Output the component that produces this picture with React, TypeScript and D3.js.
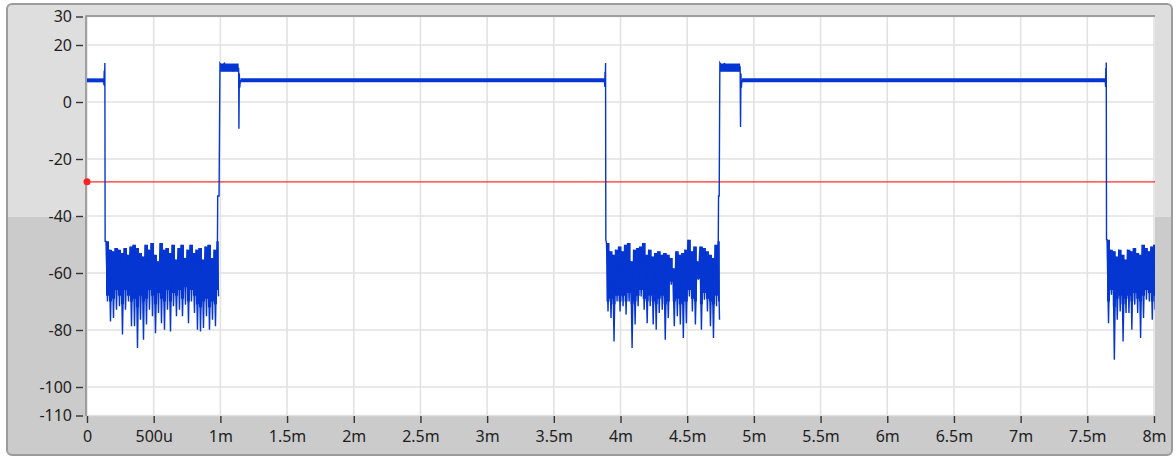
import * as d3 from "d3";
import { useEffect, useRef } from "react";

const W = 1176;
const H = 457;

// axis ticks
const yTicks = [30, 20, 0, -20, -40, -60, -80, -100, -110];
const xTicks = [0, 0.5, 1, 1.5, 2, 2.5, 3, 3.5, 4, 4.5, 5, 5.5, 6, 6.5, 7, 7.5, 8];
const xTickLabels = ["0", "500u", "1m", "1.5m", "2m", "2.5m", "3m", "3.5m", "4m", "4.5m", "5m", "5.5m", "6m", "6.5m", "7m", "7.5m", "8m"];

// red cursor level (dB)
const cursorLevel = -28;

// "on" plateau band (dB) and where it sits (ms)
const plateauBand = [6.9, 8.3];
const plateauSpans = [
	[0, 0.127],
	[1.15, 3.882],
	[4.91, 7.636],
];
// overshoot just after each rising edge
const bumpBand = [10.6, 13.5];
const bumpSpans = [
	[0.998, 1.137],
	[4.746, 4.897],
];

// edges between bursts (ms, dB)
const traceA = [
	[0, 7.5], [0.125, 7.5], [0.127, 6], [0.129, 11], [0.131, 5.5], [0.134, 13.7], [0.136, -48.9],
];
const traceB = [
	[0.978, -50], [0.98, -33], [0.99, -33], [0.997, 13.5], [1.01, 12.5], [1.03, 13.6], [1.05, 11.6],
	[1.07, 12.8], [1.09, 11], [1.11, 12.4], [1.13, 11.3], [1.137, 12], [1.139, -9.4], [1.142, 10],
	[1.145, 5], [1.15, 7.5], [3.88, 7.5], [3.882, 5.4], [3.884, 10.6], [3.886, 5.8], [3.888, 13.7],
	[3.89, -48.3],
];
const traceC = [
	[4.733, -50], [4.735, -33], [4.74, -33], [4.745, 13.7], [4.76, 12.6], [4.78, 13.5], [4.8, 11.8],
	[4.82, 12.9], [4.84, 11.2], [4.86, 12.3], [4.88, 11], [4.897, 12], [4.9, -8.8], [4.903, 10],
	[4.906, 5], [4.91, 7.5], [7.635, 7.5], [7.637, 5.3], [7.639, 12], [7.641, 5.8], [7.642, 13.9],
	[7.644, -48.3],
];

// off-state noise bursts: span (ms), per-column max, dense-floor and spike min (dB)
const burst1Span = [0.1424, 0.9745];
const burst1Hi = [
	-48.9, -51.8, -52.4, -51.2, -51.8, -53.0, -51.2, -53.6, -50.7, -50.1, -51.2, -53.0, -54.2, -50.1,
	-51.8, -49.5, -53.6, -55.9, -49.5, -51.8, -51.2, -53.0, -50.1, -55.3, -51.2, -50.1, -54.7, -51.8,
	-50.1, -53.0, -51.8, -51.2, -55.3, -50.7, -50.1, -54.7, -51.8, -48.9,
];
const burst1Core = [
	-68, -70, -69, -66, -68, -71, -66, -68, -70, -69, -72, -68, -70, -69, -66, -68, -71, -67, -69,
	-70, -66, -70, -67, -68, -66, -69, -65, -70, -66, -68, -71, -72, -70, -69, -72, -70, -71, -66,
];
const burst1Lo = [
	-70.0, -77.0, -75.8, -72.9, -71.7, -81.6, -72.9, -70.0, -78.7, -78.7, -86.3, -76.4, -83.4, -78.1,
	-72.9, -75.2, -81.1, -74.0, -77.6, -79.9, -72.9, -80.5, -71.7, -75.2, -72.9, -75.2, -71.1, -77.6,
	-70.0, -74.0, -79.9, -80.5, -79.3, -75.2, -79.9, -76.4, -78.7, -68.2,
];

const burst2Span = [3.895, 4.731];
const burst2Hi = [
	-49.5, -52.4, -53.6, -51.8, -50.7, -52.4, -50.1, -49.5, -55.9, -51.8, -51.2, -50.7, -49.5, -53.6,
	-51.8, -54.2, -53.0, -52.4, -53.6, -53.0, -53.6, -54.7, -58.3, -52.4, -53.6, -53.0, -51.8, -48.3,
	-52.4, -50.7, -55.9, -50.7, -51.2, -52.4, -53.6, -54.7, -50.1, -48.9,
];
const burst2Core = [
	-70, -69, -71, -68, -70, -68, -70, -67, -71, -70, -68, -66, -69, -70, -68, -70, -71, -69, -68,
	-71, -70, -63, -70, -69, -71, -70, -70, -66, -69, -70, -62, -71, -67, -69, -70, -71, -68, -70,
];
const burst2Lo = [
	-73.5, -75.8, -84.0, -70.0, -73.5, -71.7, -74.6, -70.0, -86.3, -78.1, -71.7, -68.2, -72.9, -77.6,
	-71.7, -78.1, -79.9, -74.0, -72.9, -83.4, -75.8, -64.1, -78.7, -75.2, -78.1, -82.8, -77.6, -68.2,
	-73.5, -78.1, -62.4, -79.9, -69.4, -73.5, -78.7, -82.8, -71.7, -76.4,
];

const burst3Span = [7.648, 7.998];
const burst3Hi = [
	-48.3, -51.8, -52.4, -54.2, -51.8, -53.6, -55.3, -51.8, -52.4, -51.2, -53.0, -53.6, -50.1, -51.2,
	-52.4, -50.7, -50.1,
];
const burst3Core = [-70, -66, -72, -69, -68, -71, -69, -68, -70, -67, -69, -70, -68, -66, -67, -70, -68];
const burst3Lo = [
	-77.6, -67.6, -90.4, -76.4, -73.5, -84.0, -74.0, -74.0, -79.9, -71.1, -74.0, -82.8, -75.8, -69.4,
	-70.0, -76.4, -72.9,
];

const bursts = [
	{ span: burst1Span, hi: burst1Hi, core: burst1Core, lo: burst1Lo },
	{ span: burst2Span, hi: burst2Hi, core: burst2Core, lo: burst2Lo },
	{ span: burst3Span, hi: burst3Hi, core: burst3Core, lo: burst3Lo },
];

function burstPoints(span: number[], hi: number[], lo: number[]) {
	const ts = d3.scaleLinear().domain([0, hi.length - 1]).range(span);
	const half = (span[1] - span[0]) / (hi.length - 1) / 2;
	return hi.flatMap((h, i) => [
		[ts(i), h],
		[ts(i) + half, lo[i]],
	]);
}

export default function App() {
	const svgRef = useRef<SVGSVGElement>(null);

	useEffect(() => {
		const svg = d3.select(svgRef.current);
		if (!svg.node()) return;
		svg.selectAll("*").remove();

		const left = 86;
		const right = 1155;
		const top = 16;
		const bottom = 416;

		const x = d3.scaleLinear().domain([0, 8]).range([87, 1154]);
		const y = d3.scaleLinear().domain([-110, 30]).range([415.5, 16.5]);

		// panel background, two tones
		const defs = svg.append("defs");
		const grad = defs
			.append("linearGradient")
			.attr("id", "panelBg")
			.attr("x1", 0)
			.attr("y1", 0)
			.attr("x2", 0)
			.attr("y2", 1);
		grad.append("stop").attr("offset", 0).attr("stop-color", "#dedede");
		grad.append("stop").attr("offset", 0.472).attr("stop-color", "#dedede");
		grad.append("stop").attr("offset", 0.472).attr("stop-color", "#cbcbcb");
		grad.append("stop").attr("offset", 1).attr("stop-color", "#cbcbcb");
		defs
			.append("clipPath")
			.attr("id", "plotClip")
			.append("rect")
			.attr("x", left)
			.attr("y", top)
			.attr("width", right - left)
			.attr("height", bottom - top);

		svg.append("rect").attr("width", W).attr("height", H).attr("fill", "#ffffff");
		svg
			.append("rect")
			.attr("x", 7)
			.attr("y", 4)
			.attr("width", 1165)
			.attr("height", 451)
			.attr("rx", 5)
			.attr("fill", "url(#panelBg)")
			.attr("stroke", "#9c9c9c")
			.attr("stroke-width", 2);

		// plot area
		svg
			.append("rect")
			.attr("x", left)
			.attr("y", top)
			.attr("width", right - left)
			.attr("height", bottom - top)
			.attr("fill", "#ffffff");

		// grid
		svg
			.append("g")
			.selectAll("line")
			.data(xTicks)
			.join("line")
			.attr("x1", (d) => x(d))
			.attr("x2", (d) => x(d))
			.attr("y1", top)
			.attr("y2", bottom)
			.attr("stroke", "#e2e2e2")
			.attr("stroke-width", 1.6);
		svg
			.append("g")
			.selectAll("line")
			.data(yTicks)
			.join("line")
			.attr("x1", left)
			.attr("x2", right)
			.attr("y1", (d) => y(d))
			.attr("y2", (d) => y(d))
			.attr("stroke", "#e2e2e2")
			.attr("stroke-width", 1.6);

		// plot border
		svg
			.append("path")
			.attr("d", `M${left},${bottom}V${top}H${right}`)
			.attr("fill", "none")
			.attr("stroke", "#8a8a8a")
			.attr("stroke-width", 1.5);

		const plot = svg.append("g").attr("clip-path", "url(#plotClip)");

		// red cursor
		plot
			.append("line")
			.attr("x1", left)
			.attr("x2", right)
			.attr("y1", y(cursorLevel))
			.attr("y2", y(cursorLevel))
			.attr("stroke", "#ff2b2b")
			.attr("stroke-width", 1.3);

		// trace
		const blue = "#0536d2";
		const bandArea = (b: number[]) =>
			d3
				.area<number>()
				.x((d) => x(d))
				.y0(y(b[0]))
				.y1(y(b[1]));
		plateauSpans.forEach((s) => {
			plot.append("path").attr("d", bandArea(plateauBand)(s)).attr("fill", blue);
		});
		bumpSpans.forEach((s) => {
			plot.append("path").attr("d", bandArea(bumpBand)(s)).attr("fill", blue);
		});

		// dense part of each noise burst
		bursts.forEach((b) => {
			const ts = d3.scaleLinear().domain([0, b.hi.length - 1]).range(b.span);
			const step = (b.span[1] - b.span[0]) / (b.hi.length - 1);
			const cols = b.hi.map((h, i) => ({ t: ts(i), h, c: b.core[i] }));
			cols.push({ t: ts(b.hi.length - 1) + step * 0.6, h: b.hi[b.hi.length - 1], c: b.core[b.core.length - 1] });
			const core = d3
				.area<{ t: number; h: number; c: number }>()
				.curve(d3.curveStepAfter)
				.x((d) => x(d.t))
				.y0((d) => y(d.c))
				.y1((d) => y(d.h));
			plot.append("path").attr("d", core(cols)).attr("fill", blue);
		});

		const pts = [
			...traceA,
			...burstPoints(burst1Span, burst1Hi, burst1Lo),
			...traceB,
			...burstPoints(burst2Span, burst2Hi, burst2Lo),
			...traceC,
			...burstPoints(burst3Span, burst3Hi, burst3Lo),
		];
		const line = d3
			.line<number[]>()
			.x((d) => x(d[0]))
			.y((d) => y(d[1]));
		plot
			.append("path")
			.attr("d", line(pts))
			.attr("fill", "none")
			.attr("stroke", blue)
			.attr("stroke-width", 1.4)
			.attr("stroke-linejoin", "miter");

		svg
			.append("circle")
			.attr("cx", x(0))
			.attr("cy", y(cursorLevel))
			.attr("r", 3.5)
			.attr("fill", "#ff2020");

		// axes (plain hyphen for negatives, as in the original)
		const font = "'Noto Sans', 'Open Sans', sans-serif";
		const yAxis = svg
			.append("g")
			.attr("transform", "translate(83,0)")
			.call(d3.axisLeft(y).tickValues(yTicks).tickSize(7).tickPadding(4).tickFormat((d) => String(d)));
		const xAxis = svg
			.append("g")
			.attr("transform", `translate(0,${bottom})`)
			.call(
				d3
					.axisBottom(x)
					.tickValues(xTicks)
					.tickSize(7)
					.tickPadding(8)
					.tickFormat((_, i) => xTickLabels[i]),
			);
		[yAxis, xAxis].forEach((g) => {
			g.select(".domain").remove();
			g.selectAll(".tick line").attr("stroke", "#333").attr("stroke-width", 1.4);
			g.selectAll(".tick text")
				.attr("fill", "#1e1e1e")
				.style("font-family", font)
				.style("font-size", "16px");
		});
	}, []);

	return (
		<svg
			ref={svgRef}
			width={W}
			height={H}
			style={{ position: "absolute", left: 0, top: 0, display: "block" }}
		/>
	);
}
